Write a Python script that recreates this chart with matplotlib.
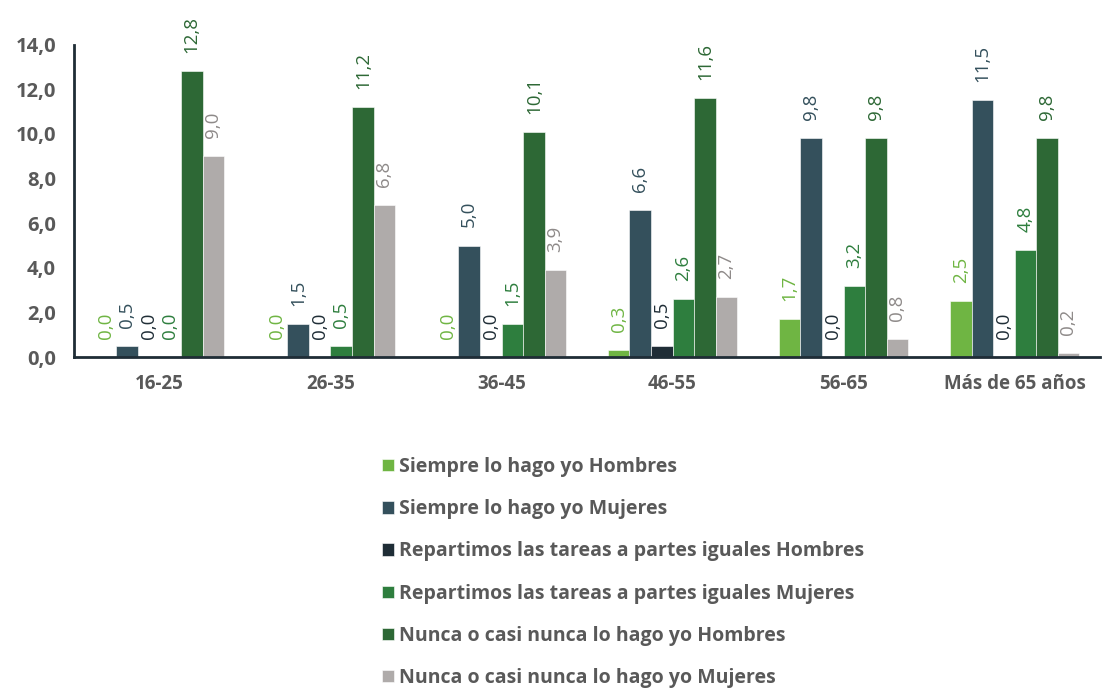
import matplotlib
matplotlib.use("Agg")
import matplotlib.pyplot as plt
import numpy as np

plt.rcParams['font.family'] = ['Open Sans', 'DejaVu Sans']

groups = ['16-25', '26-35', '36-45', '46-55', '56-65', 'Más de 65 años']

series_names = [
    'Siempre lo hago yo Hombres',
    'Siempre lo hago yo Mujeres',
    'Repartimos las tareas a partes iguales Hombres',
    'Repartimos las tareas a partes iguales Mujeres',
    'Nunca o casi nunca lo hago yo Hombres',
    'Nunca o casi nunca lo hago yo Mujeres',
]

siempre_h = [0.0, 0.0, 0.0, 0.3, 1.7, 2.5]
siempre_m = [0.5, 1.5, 5.0, 6.6, 9.8, 11.5]
reparto_h = [0.0, 0.0, 0.0, 0.5, 0.0, 0.0]
reparto_m = [0.0, 0.5, 1.5, 2.6, 3.2, 4.8]
nunca_h = [12.8, 11.2, 10.1, 11.6, 9.8, 9.8]
nunca_m = [9.0, 6.8, 3.9, 2.7, 0.8, 0.2]

bar_colors = ['#6fb543', '#34505c', '#1f2d36', '#2e7e3e', '#2d6835', '#afabaa']
text_colors = ['#6fb543', '#34505c', '#1f2d36', '#2e7e3e', '#2d6835', '#8e8a89']

values = [siempre_h, siempre_m, reparto_h, reparto_m, nunca_h, nunca_m]


def fmt(v):
    return f'{v:.1f}'.replace('.', ',')


fig = plt.figure(figsize=(11.07, 6.88), dpi=100)
ax = fig.add_axes([0.0668, 0.481, 0.927, 0.454])

x = np.arange(len(groups))
w = 0.126
for i, (vals, name) in enumerate(zip(values, series_names)):
    pos = x + (i - 2.5) * w
    ax.bar(pos, vals, width=w, color=bar_colors[i], edgecolor='white',
           linewidth=0.4, label=name)
    for px, v in zip(pos, vals):
        ax.annotate(fmt(v), (px, v), xytext=(0, 13), textcoords='offset points',
                    rotation=90, ha='center', va='bottom', fontsize=13.5,
                    color=text_colors[i], annotation_clip=False)

ax.set_xlim(-0.5, len(groups) - 0.5)
ax.set_ylim(0, 14)
yt = np.arange(0, 15, 2)
ax.set_yticks(yt)
ax.set_yticklabels([fmt(t) for t in yt])
ax.set_xticks(x)
ax.set_xticklabels(groups)

for s in ['top', 'right']:
    ax.spines[s].set_visible(False)
for s in ['left', 'bottom']:
    ax.spines[s].set_color('#1f2d36')
    ax.spines[s].set_linewidth(2)

ax.tick_params(axis='y', length=0, pad=13, labelsize=14.5, labelcolor='#595959')
ax.tick_params(axis='x', length=0, pad=12, labelsize=13.5, labelcolor='#595959')
for lab in ax.get_yticklabels() + ax.get_xticklabels():
    lab.set_fontweight('bold')

handles, labels = ax.get_legend_handles_labels()
leg = fig.legend(handles, labels, loc='upper left', bbox_to_anchor=(0.338, 0.347),
                 frameon=False, fontsize=14, handlelength=0.6, handleheight=0.6,
                 handletextpad=0.3, labelspacing=1.14, borderaxespad=0)
for t in leg.get_texts():
    t.set_color('#595959')
    t.set_fontweight('bold')

fig.savefig('out.png', dpi=100)
